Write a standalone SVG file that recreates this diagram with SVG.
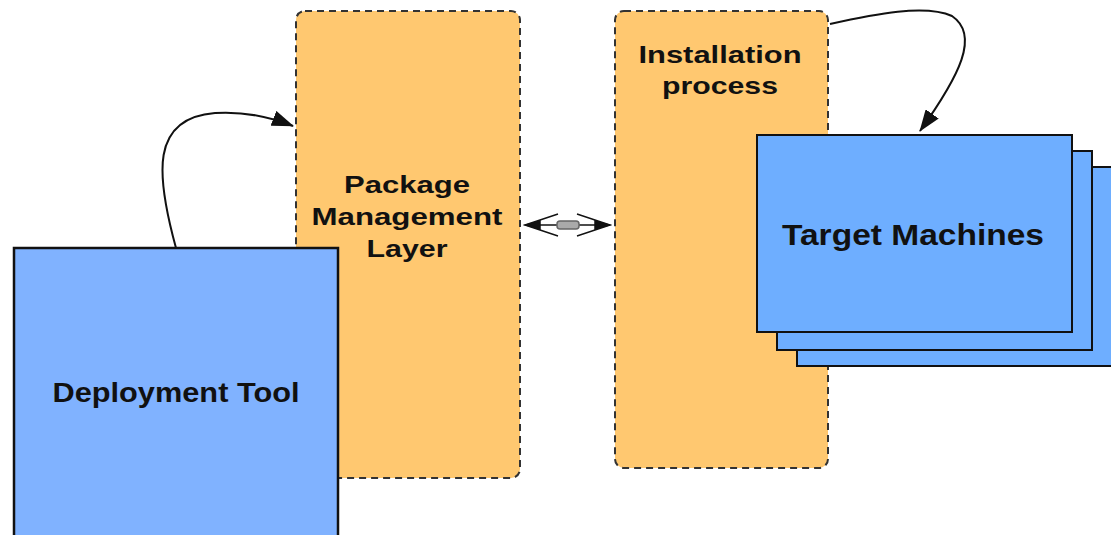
<svg xmlns="http://www.w3.org/2000/svg" width="1111" height="535" viewBox="0 0 1111 535">
  <style>
    .layer { fill: #ffc870; stroke: #333; stroke-width: 2; stroke-dasharray: 7 5; }
    .tool { fill: #80b2ff; stroke: #111; stroke-width: 2.5; }
    .machine { fill: #6eaeff; stroke: #111; stroke-width: 2; }
    .label { font-family: "Liberation Sans", Arial, sans-serif; font-weight: bold; font-size: 24px; fill: #111; text-anchor: middle; }
    .conn { fill: none; stroke: #111; stroke-width: 2; }
  </style>
  <defs>
    <marker id="arrow" viewBox="0 0 22 16" refX="21" refY="8" markerWidth="22" markerHeight="16" markerUnits="userSpaceOnUse" orient="auto">
      <path d="M0,0 L22,8 L0,16 Z" fill="#111"/>
    </marker>
  </defs>

  <g id="package-layer">
    <rect class="layer" x="296" y="11" width="224" height="467" rx="9"/>
    <text class="label" x="407" y="193" textLength="126" lengthAdjust="spacingAndGlyphs">Package</text>
    <text class="label" x="407" y="225" textLength="191" lengthAdjust="spacingAndGlyphs">Management</text>
    <text class="label" x="407" y="257" textLength="81" lengthAdjust="spacingAndGlyphs">Layer</text>
  </g>

  <g id="installation-process">
    <rect class="layer" x="615" y="11" width="213" height="457" rx="9"/>
    <text class="label" x="720" y="63" textLength="163" lengthAdjust="spacingAndGlyphs">Installation</text>
    <text class="label" x="720" y="94" textLength="116" lengthAdjust="spacingAndGlyphs">process</text>
  </g>

  <g id="deployment-tool">
    <rect class="tool" x="14" y="248" width="324" height="300"/>
    <text class="label" x="176" y="402" style="font-size:27px" textLength="247" lengthAdjust="spacingAndGlyphs">Deployment Tool</text>
  </g>

  <g id="target-machines">
    <rect class="machine" x="797" y="167" width="320" height="199"/>
    <rect class="machine" x="777" y="151" width="315" height="199"/>
    <rect class="machine" x="757" y="135" width="315" height="197"/>
    <text class="label" x="913" y="245" style="font-size:29px" textLength="262" lengthAdjust="spacingAndGlyphs">Target Machines</text>
  </g>

  <g id="connectors">
    <path class="conn" d="M176,248 C156,175 150,118 215,113 C245,111 270,117 293,126" marker-end="url(#arrow)"/>
    <path class="conn" d="M830,24 C875,14 925,4 952,16 C980,35 960,75 920,131" marker-end="url(#arrow)"/>
    <!-- bidirectional link between the two layers -->
    <g stroke="#111" stroke-width="1.5" fill="none">
      <line x1="525" y1="225" x2="610" y2="225"/>
      <path d="M558,214 L525,225 L558,236"/>
      <path d="M577,214 L610,225 L577,236"/>
      <path d="M540,221 L526,225 L540,229 Z" fill="#111"/>
      <path d="M595,221 L609,225 L595,229 Z" fill="#111"/>
    </g>
    <rect x="557" y="221" width="22" height="8" rx="3" fill="#aaa" stroke="#666" stroke-width="1.5"/>
  </g>
</svg>
